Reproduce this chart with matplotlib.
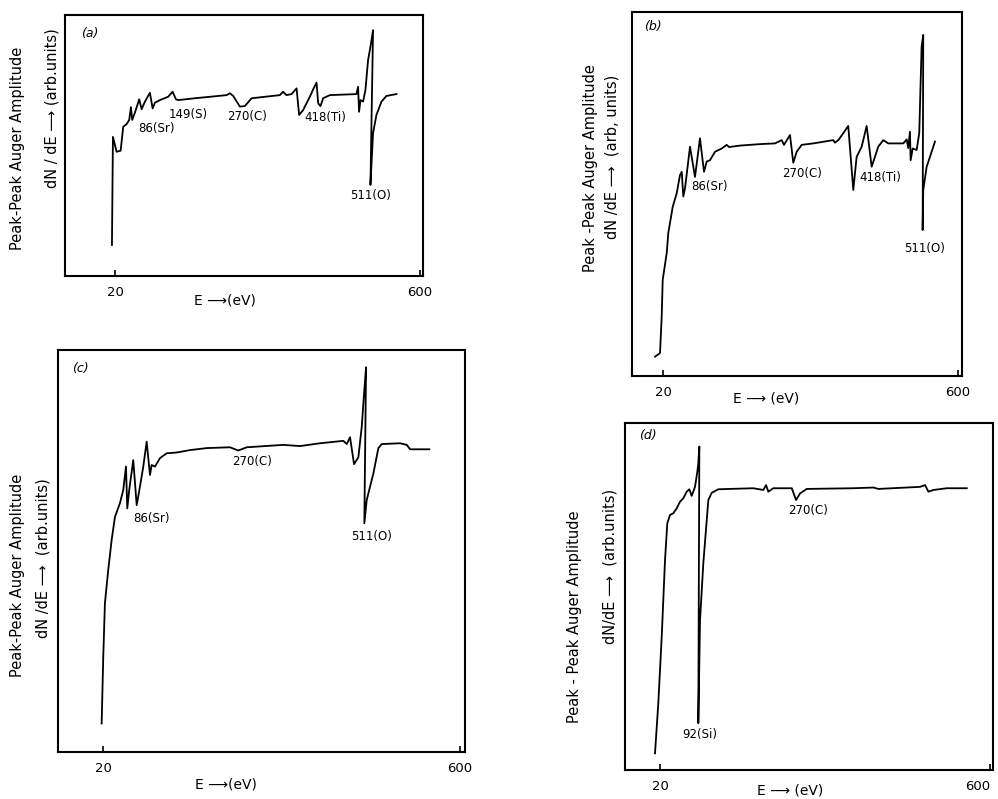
import matplotlib
matplotlib.use("Agg")
import matplotlib.pyplot as plt

plt.rcParams['font.family'] = ['DejaVu Sans']

# --- Auger spectra, x = E (eV), y = dN/dE (arb. units, 0-100 of the frame) ---

# (a)
energy_a = [14.3, 16.2, 23.2, 30.8, 35.8, 42.2, 47.2, 50.4, 52.9, 58.0, 66.2, 70.8, 77.0,
            86.5, 91.7, 96.1, 105.6, 121.4, 129.7, 136.0, 140.4, 172.1, 232.4, 238.7, 244.9,
            257.7, 267.2, 279.9, 333.7, 339.8, 346.3, 356.0, 365.5, 370.4, 378.0, 390.8,
            397.0, 403.5, 406.6, 411.0, 416.0, 428.8, 479.4, 482.5, 484.4, 487.0, 492.0,
            496.5, 501.5, 506.0, 511.0, 506.0, 511.0, 517.4, 527.0, 536.5, 555.5]
signal_a = [11.9, 53.3, 47.6, 48.0, 57.2, 58.2, 59.8, 64.7, 59.8, 62.6, 67.7, 63.9, 66.8,
            70.2, 64.2, 66.4, 67.4, 68.7, 70.6, 67.7, 67.4, 68.1, 69.3, 70.0, 69.0,
            64.9, 65.1, 68.1, 69.3, 70.6, 69.3, 69.7, 71.9, 61.7, 63.6, 68.7,
            71.5, 74.1, 66.2, 65.1, 68.1, 69.3, 69.7, 72.5, 62.9, 67.4, 66.8,
            71.3, 82.7, 87.8, 94.2, 34.9, 54.7, 61.7, 66.8, 69.0, 69.7]
labels_a = ["86(Sr)", "149(S)", "270(C)", "418(Ti)", "511(O)"]
label_pos_a = [(99.3, 56.6), (158.8, 61.7), (270.4, 61.0), (419.3, 60.9), (506.0, 31.0)]

# (b)
energy_b = [4.3, 14.1, 17.4, 19.4, 27.3, 30.4, 39.1, 46.9, 53.4, 56.8, 59.9, 63.3, 73.1,
            82.9, 92.7, 100.6, 105.9, 112.4, 122.2, 135.4, 145.2, 149.8, 171.4, 210.7,
            240.2, 253.4, 257.9, 269.7, 276.2, 282.9, 292.7, 315.5, 354.8, 358.2, 364.7,
            374.5, 384.3, 394.2, 397.5, 400.8, 410.7, 420.5, 430.3, 436.8, 443.3, 453.2,
            463.0, 492.5, 499.2, 502.3, 505.6, 507.0, 511.0, 518.8, 523.9, 528.6, 531.8,
            530.6, 531.8, 538.5, 545.0, 554.8]
signal_b = [5.3, 6.3, 16.3, 26.4, 33.8, 39.3, 46.5, 50.2, 55.2, 56.1, 49.3, 51.6, 63.0,
            54.7, 65.3, 56.1, 58.9, 59.3, 61.6, 62.5, 63.5, 62.9, 63.3, 63.7,
            63.9, 64.8, 63.5, 66.2, 58.6, 61.6, 63.5, 63.9, 64.8, 64.1, 64.8,
            66.7, 68.7, 51.1, 55.7, 60.2, 63.0, 68.7, 57.5, 60.2, 63.0, 64.8,
            63.9, 63.9, 65.0, 62.6, 67.1, 59.3, 62.5, 62.1, 66.7, 90.5, 93.7,
            40.1, 51.1, 57.5, 60.2, 64.4]
labels_b = ["86(Sr)", "270(C)", "418(Ti)", "511(O)"]
label_pos_b = [(112.4, 52.0), (292.7, 55.7), (446.9, 54.4), (535.3, 35.1)]

# (c)
energy_c = [17.9, 20.5, 23.2, 28.6, 34.1, 39.5, 47.6, 53.0, 57.4, 59.5, 62.7, 69.2, 74.8,
            80.1, 85.5, 91.0, 96.4, 99.1, 104.5, 112.6, 123.5, 139.7, 161.3, 188.5, 226.3,
            239.8, 253.5, 312.9, 340.1, 372.6, 410.4, 416.0, 421.3, 427.8, 434.8, 440.3,
            444.1, 447.3, 444.5, 448.4, 459.2, 467.3, 472.8, 502.5, 513.4, 518.8, 550.1]
signal_c = [7.1, 23.7, 37.0, 45.3, 52.7, 58.5, 61.9, 65.2, 71.0, 60.6, 65.2, 72.6, 61.4,
            66.0, 71.0, 77.2, 68.9, 71.4, 71.0, 73.1, 74.3, 74.5, 75.1, 75.6, 75.8,
            75.0, 75.8, 76.4, 76.1, 76.8, 77.4, 76.6, 78.3, 71.6, 73.3, 80.9,
            89.2, 95.7, 56.9, 62.7, 69.3, 75.6, 76.6, 76.8, 76.4, 75.3, 75.3]
labels_c = ["86(Sr)", "270(C)", "511(O)"]
label_pos_c = [(99.1, 58.1), (261.6, 72.2), (456.6, 53.6)]

# (d)
energy_d = [11.2, 17.0, 23.0, 28.8, 32.8, 37.6, 43.4, 49.3, 55.1, 60.9, 66.9, 71.5, 75.7,
            81.5, 85.6, 87.3, 89.1, 87.3, 90.3, 96.1, 102.1, 104.9, 110.9, 122.5, 184.0,
            201.5, 206.3, 210.3, 219.1, 251.5, 259.0, 266.0, 277.8, 359.7, 394.9, 403.7,
            476.9, 485.7, 491.5, 500.3, 523.9, 559.0]
signal_d = [4.8, 19.2, 38.4, 60.5, 71.1, 73.5, 74.0, 75.4, 77.3, 78.3, 80.2, 80.9, 79.0,
            81.6, 86.0, 88.4, 93.2, 13.5, 43.2, 59.6, 72.0, 77.8, 79.9, 80.9, 81.2,
            80.7, 82.1, 80.2, 81.2, 81.2, 77.8, 79.7, 81.0, 81.2, 81.4, 81.0,
            81.6, 82.1, 80.2, 80.7, 81.2, 81.2]
labels_d = ["92(Si)", "270(C)"]
label_pos_d = [(90.3, 10.1), (280.6, 74.9)]

tick_values = [20, 600]
tick_labels = ["20", "600"]

W, H = 998, 799
fig = plt.figure(figsize=(W / 100, H / 100), dpi=100)


def box(l, t, r, b):
    return [l / W, 1 - b / H, (r - l) / W, (b - t) / H]


def ftext(x, y, s, **kw):
    fig.text(x / W, 1 - y / H, s, ha='center', va='center', **kw)


panels = [
    # frame in px, xlim, data, tag, tag pos, y-label pos, x-label
    dict(frame=(65, 15, 423, 276), xlim=(-75, 606), x=energy_a, y=signal_a,
         labels=labels_a, lpos=label_pos_a, tag="(a)", tagpos=(-27.5, 93.1),
         yl1=("Peak-Peak Auger Amplitude", 18, 148), yl2=("dN / dE \u27f6 (arb.units)", 52, 108),
         xl=("E \u27f6(eV)", 225, 300)),
    dict(frame=(632, 12, 962, 376), xlim=(-41, 608), x=energy_b, y=signal_b,
         labels=labels_b, lpos=label_pos_b, tag="(b)", tagpos=(0.9, 96.0),
         yl1=("Peak -Peak Auger Amplitude", 590, 168), yl2=("dN /dE \u27f6  (arb, units)", 612, 157),
         xl=("E \u27f6 (eV)", 766, 399)),
    dict(frame=(58, 350, 465, 752), xlim=(-53, 608), x=energy_c, y=signal_c,
         labels=labels_c, lpos=label_pos_c, tag="(c)", tagpos=(-17.4, 95.5),
         yl1=("Peak-Peak Auger Amplitude", 18, 575), yl2=("dN /dE \u27f6  (arb.units)", 43, 558),
         xl=("E \u27f6(eV)", 226, 785)),
    dict(frame=(625, 423, 993, 770), xlim=(-41.5, 605), x=energy_d, y=signal_d,
         labels=labels_d, lpos=label_pos_d, tag="(d)", tagpos=(-0.6, 96.5),
         yl1=("Peak - Peak Auger Amplitude", 575, 617), yl2=("dN/dE \u27f6  (arb.units)", 610, 566),
         xl=("E \u27f6 (eV)", 790, 790)),
]

axes = []
for p in panels:
    ax = fig.add_axes(box(*p['frame']))
    ax.plot(p['x'], p['y'], color='black', lw=1.3)
    ax.set_xlim(*p['xlim'])
    ax.set_ylim(0, 100)
    ax.set_xticks(tick_values)
    ax.set_xticklabels(tick_labels, fontsize=9.5)
    ax.set_yticks([])
    ax.tick_params(axis='x', direction='in', length=4, width=1.2, pad=7)
    for sp in ax.spines.values():
        sp.set_linewidth(1.5)
    for s, (ex, ey) in zip(p['labels'], p['lpos']):
        ax.text(ex, ey, s, fontsize=8.5, ha='center', va='center')
    ax.text(*p['tagpos'], p['tag'], fontsize=9, style='italic', ha='center', va='center')
    s, x, y = p['yl1']
    ftext(x, y, s, rotation=90, fontsize=10.5)
    s, x, y = p['yl2']
    ftext(x, y, s, rotation=90, fontsize=10.5)
    s, x, y = p['xl']
    ftext(x, y, s, fontsize=10)
    axes.append(ax)

# keep the "600" of panel (d) inside the page
axes[3].get_xticklabels()[1].set_horizontalalignment('right')

plt.savefig("out.png", dpi=100)
